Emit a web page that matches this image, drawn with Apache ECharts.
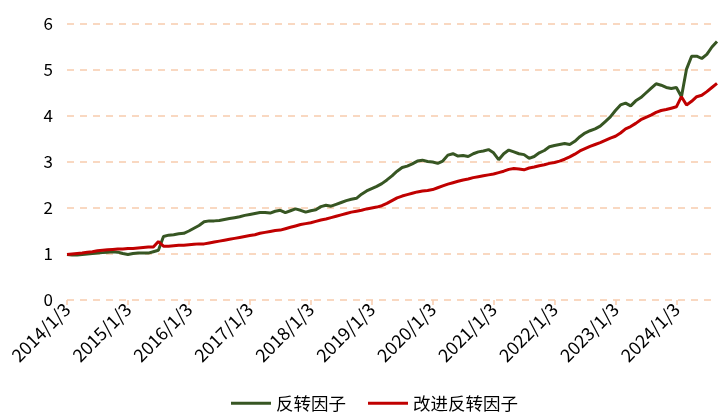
<!DOCTYPE html>
<html>
<head>
<meta charset="utf-8">
<script src="https://cdn.jsdelivr.net/npm/echarts@6/dist/echarts.min.js"></script>
<style>
html,body{margin:0;padding:0;background:#fff;}
#chart{width:723px;height:417px;}
</style>
</head>
<body>
<div id="chart"></div>
<script>
// Monthly sample dates (day 3 of each month), 2014/1/3 .. 2024/9/3
const categories = [];
for (let y = 2014; y <= 2024; y++) {
  for (let m = 1; m <= 12; m++) {
    if (y === 2024 && m > 9) break;
    categories.push(y + '/' + m + '/3');
  }
}

const seriesNames = ['反转因子', '改进反转因子'];

const reversalFactor = [
  0.99,0.98,0.98,0.99,1.00,1.01,1.02,1.03,1.04,1.05,1.04,1.01,
  0.99,1.01,1.02,1.02,1.02,1.05,1.08,1.38,1.41,1.42,1.44,1.45,
  1.50,1.56,1.62,1.70,1.72,1.72,1.73,1.75,1.77,1.79,1.81,1.84,
  1.86,1.88,1.90,1.90,1.89,1.93,1.95,1.90,1.94,1.98,1.95,1.91,
  1.94,1.96,2.03,2.06,2.04,2.08,2.12,2.16,2.19,2.21,2.30,2.37,
  2.42,2.47,2.53,2.61,2.70,2.80,2.88,2.91,2.96,3.02,3.04,3.01,
  3.00,2.97,3.02,3.15,3.18,3.13,3.14,3.12,3.18,3.22,3.24,3.27,
  3.20,3.05,3.18,3.26,3.22,3.18,3.16,3.08,3.12,3.20,3.25,3.33,
  3.36,3.38,3.40,3.38,3.45,3.55,3.63,3.68,3.72,3.78,3.88,3.98,
  4.12,4.24,4.28,4.22,4.33,4.40,4.50,4.60,4.70,4.67,4.62,4.60,
  4.62,4.42,5.02,5.30,5.30,5.25,5.34,5.50,5.62
];

const improvedReversalFactor = [
  0.99,1.00,1.01,1.02,1.04,1.05,1.07,1.08,1.09,1.10,1.11,1.11,
  1.12,1.12,1.13,1.14,1.15,1.15,1.27,1.17,1.17,1.18,1.19,1.19,
  1.20,1.21,1.22,1.22,1.24,1.26,1.28,1.30,1.32,1.34,1.36,1.38,
  1.40,1.42,1.45,1.47,1.49,1.51,1.52,1.55,1.58,1.61,1.64,1.66,
  1.68,1.71,1.74,1.76,1.79,1.82,1.85,1.88,1.91,1.93,1.95,1.98,
  2.00,2.02,2.05,2.10,2.16,2.22,2.26,2.29,2.32,2.35,2.37,2.38,
  2.40,2.44,2.48,2.52,2.55,2.58,2.61,2.63,2.66,2.68,2.70,2.72,
  2.74,2.77,2.80,2.84,2.86,2.85,2.83,2.87,2.89,2.92,2.94,2.97,
  2.99,3.02,3.06,3.11,3.17,3.24,3.29,3.34,3.38,3.42,3.47,3.52,
  3.56,3.63,3.72,3.77,3.84,3.92,3.97,4.02,4.08,4.12,4.14,4.17,
  4.20,4.42,4.24,4.32,4.42,4.45,4.53,4.62,4.71
];

const yTicks = [0, 1, 2, 3, 4, 5, 6];

const FONT = '"Noto Sans CJK SC", "Noto Sans", sans-serif';
const GRID_COLOR = '#f8cbad';
const isYearStart = (idx, val) => String(val).split('/')[1] === '1';

const chart = echarts.init(document.getElementById('chart'), null, {renderer: 'canvas'});
chart.setOption({
  animation: false,
  backgroundColor: '#ffffff',
  grid: {left: 67, right: 6, top: 24, bottom: 117, containLabel: false},
  legend: {
    bottom: 0,
    left: 226,
    icon: 'rect',
    itemWidth: 40,
    itemHeight: 3,
    itemGap: 22,
    textStyle: {fontFamily: FONT, fontSize: 17.5, color: '#000'},
    data: seriesNames
  },
  xAxis: {
    type: 'category',
    data: categories,
    boundaryGap: false,
    axisLine: {show: false},
    axisTick: {
      show: true,
      interval: isYearStart,
      length: 5,
      lineStyle: {color: GRID_COLOR, width: 1.5}
    },
    axisLabel: {
      interval: isYearStart,
      rotate: 45,
      margin: 6,
      fontFamily: FONT,
      fontSize: 18,
      color: '#000'
    },
    splitLine: {show: false}
  },
  yAxis: {
    type: 'value',
    min: yTicks[0],
    max: yTicks[yTicks.length - 1],
    interval: 1,
    axisLine: {show: false},
    axisTick: {show: false},
    axisLabel: {
      margin: 14,
      fontFamily: FONT,
      fontSize: 17,
      color: '#000'
    },
    splitLine: {
      show: true,
      lineStyle: {color: GRID_COLOR, width: 1.5, type: [7, 6]}
    }
  },
  series: [
    {
      name: seriesNames[0],
      type: 'line',
      data: reversalFactor,
      symbol: 'none',
      lineStyle: {color: '#375623', width: 3},
      itemStyle: {color: '#375623'},
      z: 2
    },
    {
      name: seriesNames[1],
      type: 'line',
      data: improvedReversalFactor,
      symbol: 'none',
      lineStyle: {color: '#c00000', width: 3},
      itemStyle: {color: '#c00000'},
      z: 3
    }
  ]
});
</script>
</body>
</html>
